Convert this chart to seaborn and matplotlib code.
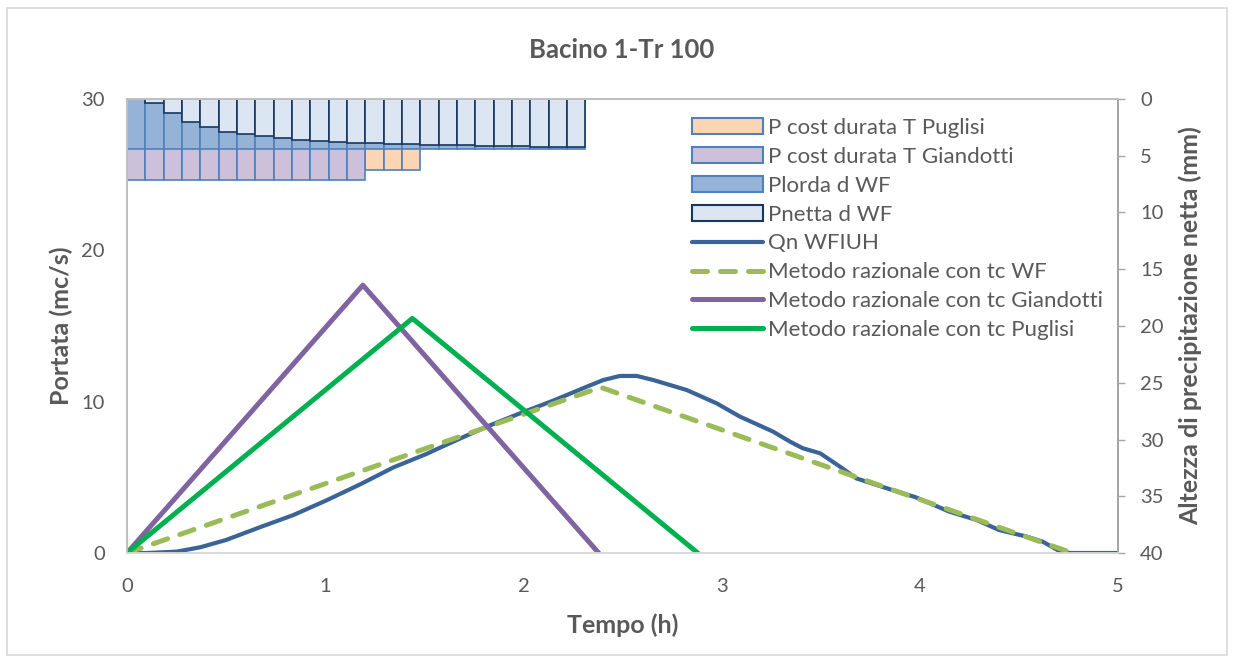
import matplotlib
matplotlib.use("Agg")
import matplotlib.pyplot as plt
from matplotlib.patches import Patch, Rectangle
from matplotlib.lines import Line2D
import seaborn as sns
import numpy as np

# ---------------- data ----------------
dt = 0.0925  # hours per hyetograph interval

p_puglisi = [6.26] * 16
p_giandotti = [7.14] * 13
p_lorda_wf = [4.43] * 25
p_netta_wf = [0.0, 0.32, 1.26, 2.05, 2.50, 2.88, 3.05, 3.26, 3.44, 3.61, 3.70,
              3.79, 3.85, 3.91, 3.94, 3.96, 4.02, 4.05, 4.08, 4.11, 4.14, 4.17,
              4.20, 4.20, 4.23]

qn_t = [0.0, 0.10, 0.25, 0.37, 0.50, 0.67, 0.84, 1.01, 1.18, 1.345, 1.51, 1.646,
        1.815, 1.983, 2.151, 2.32, 2.403, 2.487, 2.572, 2.655, 2.74, 2.824, 2.975,
        3.093, 3.26, 3.345, 3.41, 3.497, 3.598, 3.68, 3.85, 3.98, 4.15, 4.287,
        4.40, 4.54, 4.62, 4.71, 4.76, 5.0]
qn_q = [0.0, 0.0, 0.09, 0.38, 0.86, 1.70, 2.51, 3.50, 4.56, 5.66, 6.54, 7.36,
        8.35, 9.23, 10.07, 10.99, 11.43, 11.70, 11.70, 11.43, 11.10, 10.77, 9.89,
        9.01, 8.02, 7.36, 6.92, 6.59, 5.70, 4.93, 4.21, 3.68, 2.73, 2.18,
        1.52, 1.08, 0.75, 0.09, 0.0, 0.0]

rat_wf_t = [0.0, 2.39, 4.77]
rat_wf_q = [0.0, 10.95, 0.0]
rat_gia_t = [0.0, 1.19, 2.38]
rat_gia_q = [0.0, 17.7, 0.0]
rat_pug_t = [0.0, 1.44, 2.88]
rat_pug_q = [0.0, 15.5, 0.0]

labels = ["P cost durata T Puglisi", "P cost durata T Giandotti", "Plorda d WF",
          "Pnetta d WF", "Qn WFIUH", "Metodo razionale con tc WF",
          "Metodo razionale con tc Giandotti", "Metodo razionale con tc Puglisi"]

# ---------------- style ----------------
sns.set_theme(style="white")
plt.rcParams["font.family"] = ["Lato", "DejaVu Sans"]
txt = "#595959"

fig = plt.figure(figsize=(12.34, 6.63), dpi=100)
fig.patches.append(Rectangle((0.006, 0.012), 0.988, 0.976, transform=fig.transFigure,
                             fill=False, edgecolor="#D9D9D9", linewidth=1.2))
ax = fig.add_axes([0.1029, 0.1659, 0.8031, 0.6848])
ax2 = ax.twinx()

# hyetographs on secondary (inverted) axis
edge_b = "#4F81BD"
def bars(vals, color, edge):
    x = np.arange(len(vals)) * dt
    ax2.bar(x, vals, width=dt, align="edge", bottom=0, color=color,
            edgecolor=edge, linewidth=1.2)

bars(p_puglisi, "#FCD5B5", edge_b)
bars(p_giandotti, "#CCC0DA", edge_b)
bars(p_lorda_wf, "#95B3D7", edge_b)
bars(p_netta_wf, "#DCE6F2", "#17375E")
ax2.set_ylim(40, 0)
ax2.set_yticks(range(0, 41, 5))

# lines on primary axis
c_qn, c_wf, c_gia, c_pug = "#3A6398", "#9BBB59", "#8064A2", "#00B050"
wf_dash = [3, 2.6]
sns.lineplot(x=qn_t, y=qn_q, ax=ax, color=c_qn, linewidth=3.0, sort=False)
ax.lines[-1].set_solid_joinstyle("round")
sns.lineplot(x=rat_wf_t, y=rat_wf_q, ax=ax, color=c_wf, linewidth=3.6, sort=False)
ax.lines[-1].set_dashes(wf_dash)
ax.lines[-1].set_dash_capstyle("round")
sns.lineplot(x=rat_gia_t, y=rat_gia_q, ax=ax, color=c_gia, linewidth=3.6, sort=False)
sns.lineplot(x=rat_pug_t, y=rat_pug_q, ax=ax, color=c_pug, linewidth=3.6, sort=False)

ax.set_zorder(ax2.get_zorder() + 1)
ax.patch.set_visible(False)

ax.set_xlim(0, 5)
ax.set_ylim(0, 30)
ax.set_xticks(range(0, 6))
ax.set_yticks(range(0, 31, 10))
ax.tick_params(axis="y", length=0, labelsize=14.5, labelcolor=txt, pad=16)
ax.tick_params(axis="x", length=0, labelsize=14.5, labelcolor=txt, pad=18)
ax2.tick_params(axis="y", length=5, width=1, color="#A6A6A6", labelsize=14.5,
                labelcolor=txt, pad=11)

for a in (ax, ax2):
    for s in a.spines.values():
        s.set_linewidth(1.3)
    a.spines["left"].set_color("#BFBFBF")
    a.spines["bottom"].set_color("#D9D9D9")
    a.spines["right"].set_color("#A6A6A6")
    a.spines["top"].set_color("#BFBFBF")

ax.set_xlabel("Tempo (h)", fontsize=18, fontweight="bold", color=txt, labelpad=13)
ax.set_ylabel("Portata (mc/s)", fontsize=18, fontweight="bold", color=txt, labelpad=6)
ax2.set_ylabel("Altezza di precipitazione netta (mm)", fontsize=18,
               fontweight="bold", color=txt, labelpad=11)
fig.text(0.504, 0.9246, "Bacino 1-Tr 100", ha="center", va="center", fontsize=18.5,
         fontweight="bold", color=txt)

handles = [
    Patch(facecolor="#FCD5B5", edgecolor=edge_b, linewidth=1.5),
    Patch(facecolor="#CCC0DA", edgecolor=edge_b, linewidth=1.5),
    Patch(facecolor="#95B3D7", edgecolor=edge_b, linewidth=1.5),
    Patch(facecolor="#DCE6F2", edgecolor="#17375E", linewidth=1.5),
    Line2D([], [], color=c_qn, linewidth=3.0),
    Line2D([], [], color=c_wf, linewidth=3.6, dashes=wf_dash, dash_capstyle="round"),
    Line2D([], [], color=c_gia, linewidth=3.6),
    Line2D([], [], color=c_pug, linewidth=3.6),
]
leg = ax.legend(handles, labels, loc="upper left", bbox_to_anchor=(0.561, 0.978),
                frameon=False, fontsize=16, handlelength=3.2, handleheight=0.7,
                labelspacing=0.40, handletextpad=0.25, borderaxespad=0)
for t in leg.get_texts():
    t.set_color(txt)

fig.savefig("out.png", dpi=100)
